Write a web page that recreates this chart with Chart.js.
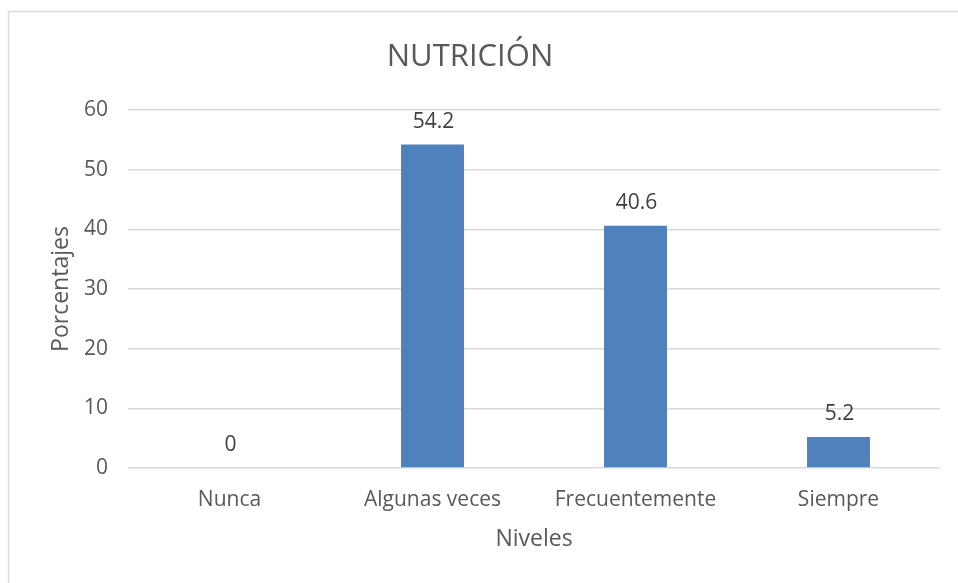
<!DOCTYPE html>
<html>
<head>
<meta charset="utf-8">
<script src="https://cdn.jsdelivr.net/npm/chart.js@4/dist/chart.umd.min.js"></script>
<style>
  html, body { margin: 0; padding: 0; background: #fff; }
  #wrap { position: relative; width: 958px; height: 583px; }
</style>
</head>
<body>
<div id="wrap"><canvas id="c" width="958" height="583"></canvas></div>
<script>
const categories = ["Nunca", "Algunas veces", "Frecuentemente", "Siempre"];
const porcentajes = [0, 54.2, 40.6, 5.2];
const yTicks = [0, 10, 20, 30, 40, 50, 60];
const chartTitle = "NUTRICIÓN";
const xTitle = "Niveles";
const yTitle = "Porcentajes";

const FONT = "'Open Sans', Lato, sans-serif";
const TXT = "#595959";

const frame = {
  id: "frame",
  beforeDraw(chart) {
    const ctx = chart.ctx;
    ctx.save();
    ctx.fillStyle = "#ffffff";
    ctx.fillRect(0, 0, chart.width, chart.height);
    ctx.strokeStyle = "#d9d9d9";
    ctx.lineWidth = 1.5;
    ctx.strokeRect(8.5, 11.5, 1000, 1000);
    ctx.restore();
  }
};

const dataLabels = {
  id: "dataLabels",
  afterDatasetsDraw(chart) {
    const ctx = chart.ctx;
    const meta = chart.getDatasetMeta(0);
    ctx.save();
    ctx.font = "21px " + FONT;
    ctx.fillStyle = "#404040";
    ctx.textAlign = "center";
    ctx.textBaseline = "middle";
    meta.data.forEach((bar, i) => {
      const v = chart.data.datasets[0].data[i];
      ctx.fillText(String(v), bar.x + 1, bar.y - 23);
    });
    ctx.restore();
  }
};

new Chart(document.getElementById("c"), {
  type: "bar",
  data: {
    labels: categories,
    datasets: [{
      data: porcentajes,
      backgroundColor: "#4f81bd",
      borderWidth: 0,
      categoryPercentage: 1,
      barPercentage: 0.31
    }]
  },
  options: {
    responsive: false,
    animation: false,
    layout: { padding: { left: 0, right: 18, top: 0, bottom: 0 } },
    plugins: {
      legend: { display: false },
      tooltip: { enabled: false },
      title: {
        display: true,
        text: chartTitle,
        color: TXT,
        font: { family: FONT, size: 31, weight: "normal" },
        padding: { top: 38.4, bottom: 34.4 }
      }
    },
    scales: {
      x: {
        grid: { display: false, drawTicks: false },
        border: { display: false },
        ticks: { color: TXT, font: { family: FONT, size: 21 }, padding: 19 },
        title: {
          display: true, text: xTitle, color: TXT,
          font: { family: FONT, size: 23 },
          padding: { top: 0, bottom: 30 }
        },
        afterFit(s) { s.height = 115; }
      },
      y: {
        min: 0, max: 60,
        afterBuildTicks(s) { s.ticks = yTicks.map(v => ({ value: v })); },
        grid: { color: "#d9d9d9", lineWidth: 1.5, drawTicks: false },
        border: { display: false },
        ticks: { color: TXT, font: { family: FONT, size: 21 }, padding: 20 },
        title: {
          display: true, text: yTitle, color: TXT,
          font: { family: FONT, size: 23 },
          padding: { top: 48, bottom: 0 }
        },
        afterFit(s) { s.width = 128; }
      }
    }
  },
  plugins: [frame, dataLabels]
});
</script>
</body>
</html>
